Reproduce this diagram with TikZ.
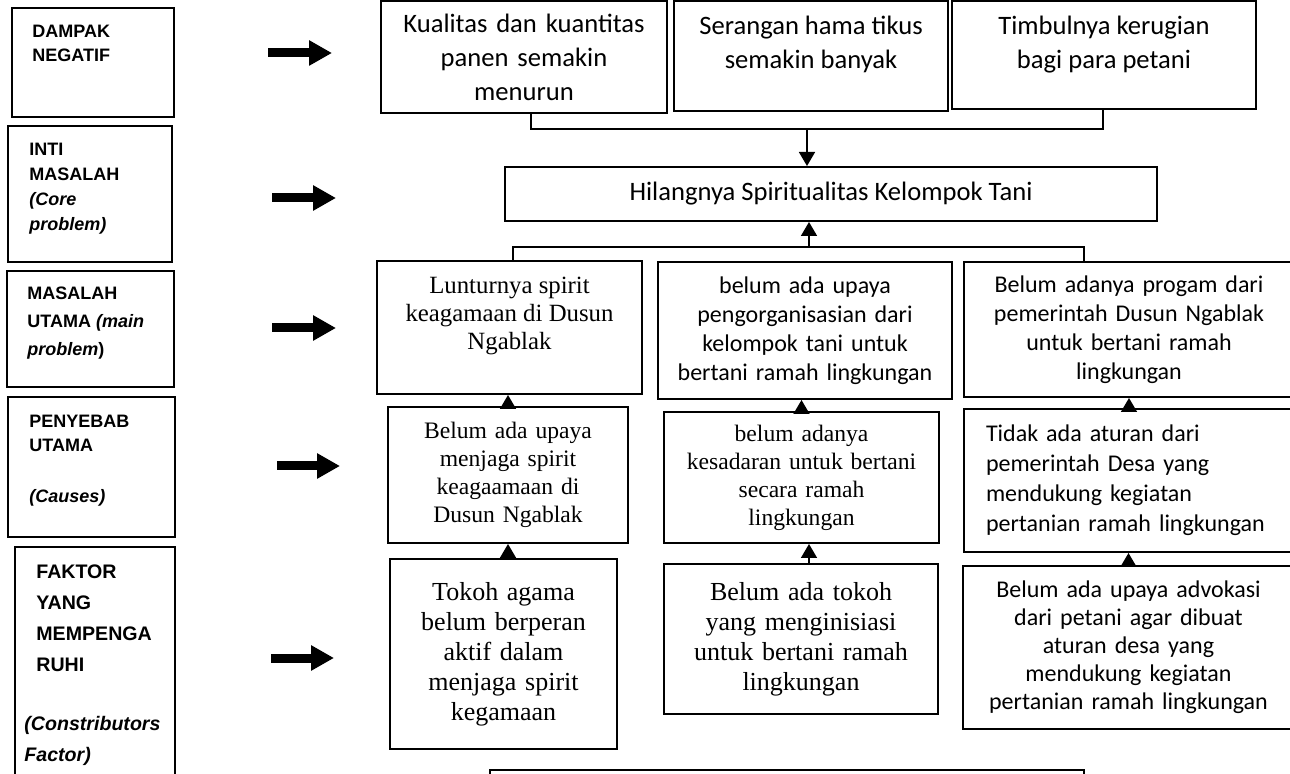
\documentclass[tikz,border=0pt]{standalone}
\usepackage{fontspec}
\setmainfont{Liberation Serif}
\newfontfamily\calibrifont{Carlito}
\newfontfamily\arialfont{Liberation Sans}
\usetikzlibrary{arrows.meta, positioning, fit}

\begin{document}
\begin{tikzpicture}[
    x=0.5pt, y=-0.5pt,
    cbox/.style={rectangle, draw, line width=1pt, inner sep=0pt, align=center},
    topfont/.style={font=\calibrifont\fontsize{13.3}{17}\selectfont},
    calfont/.style={font=\calibrifont\fontsize{12}{14.5}\selectfont},
    serfont/.style={font=\fontsize{11.8}{14}\selectfont},
    serbig/.style={font=\fontsize{13}{15}\selectfont},
    intext/.style={inner sep=0pt, align=center},
    lbltext/.style={font=\arialfont\bfseries\fontsize{9}{12}\selectfont,
                    align=left, inner sep=0pt},
    link/.style={line width=0.8pt},
    uparrow/.style={link, -{Triangle[length=7pt, width=8pt]}},
    bigarrow/.style={line width=4.5pt, -{Triangle[length=11.5pt, width=12pt]}}
]
    \useasboundingbox (0,0) rectangle (1290,774);
    \clip (0,0) rectangle (1290,774);

    % Left column labels
    \node[cbox, fit={(12,8) (174,117)}] (l1) {};
    \node[lbltext, anchor=north west] (l1t) at (32,25) {DAMPAK\\NEGATIF};
    \node[cbox, fit={(8,126) (172,262)}] (l2) {};
    \node[lbltext, font=\arialfont\bfseries\fontsize{9}{12.5}\selectfont,
          anchor=north west] (l2t) at (29,143)
          {INTI\\MASALAH\\\textit{(Core}\\\textit{problem)}};
    \node[cbox, fit={(7,271) (174,387)}] (l3) {};
    \node[lbltext, font=\arialfont\bfseries\fontsize{9}{14}\selectfont,
          anchor=north west] (l3t) at (27,287)
          {MASALAH\\UTAMA \textit{(main}\\\textit{problem})};
    \node[cbox, fit={(8,397) (175,537)}] (l4) {};
    \node[lbltext, anchor=north west] (l4t) at (29,415)
          {PENYEBAB\\UTAMA\\[13.5pt]\textit{(Causes)}};
    \node[cbox, fit={(15,547) (175,800)}] (l5) {};
    \node[lbltext, font=\arialfont\bfseries\fontsize{9.8}{15.5}\selectfont,
          anchor=north west] (l5t) at (36,564)
          {FAKTOR\\YANG\\MEMPENGA\\RUHI\\[14pt]
           \hspace*{-6pt}\textit{(Constributors}\\\hspace*{-6pt}\textit{Factor)}};

    % Level arrows
    \coordinate (as1) at (268,53);  \coordinate (ae1) at (332,53);
    \coordinate (as2) at (272,198); \coordinate (ae2) at (336,198);
    \coordinate (as3) at (272,328); \coordinate (ae3) at (336,328);
    \coordinate (as4) at (277,466); \coordinate (ae4) at (340,466);
    \coordinate (as5) at (271,658); \coordinate (ae5) at (334,658);
    \draw[bigarrow] (as1) -- (ae1);
    \draw[bigarrow] (as2) -- (ae2);
    \draw[bigarrow] (as3) -- (ae3);
    \draw[bigarrow] (as4) -- (ae4);
    \draw[bigarrow] (as5) -- (ae5);

    % Dampak negatif
    \node[cbox, topfont, text width=135pt, minimum width=143pt, minimum height=56pt]
          (k1) at (524,57) {Kualitas dan kuantitas\\panen semakin\\menurun};
    \node[cbox, fit={(674,1) (948,111)}] (k2) {};
    \node[intext, topfont, below=8pt of k2.north] (k2t)
          {Serangan hama tikus\\semakin banyak};
    \node[cbox, fit={(952,1) (1256,109)}] (k3) {};
    \node[intext, topfont, below=8pt of k3.north] (k3t)
          {Timbulnya kerugian\\bagi para petani};

    % Inti masalah
    \node[cbox, topfont, minimum width=326pt, minimum height=27pt]
          (hil) at (831,194) {Hilangnya Spiritualitas Kelompok Tani};

    % Masalah utama
    \node[cbox, fit={(377,261) (642,394)}] (mA) {};
    \node[intext, font=\fontsize{12.4}{14}\selectfont, below=8.5pt of mA.north] (mAt)
          {Lunturnya spirit\\keagamaan di Dusun\\Ngablak};
    \node[cbox, calfont, text width=140pt, minimum width=147pt, minimum height=68.5pt]
          (mB) at (805,330.5)
          {belum ada upaya\\pengorganisasian dari\\kelompok tani untuk\\bertani ramah lingkungan};
    \node[cbox, calfont, text width=150pt, minimum width=165pt, minimum height=67.5pt]
          (mC) at (1129,329.5)
          {Belum adanya progam dari\\pemerintah Dusun Ngablak\\untuk bertani ramah\\lingkungan};

    % Penyebab utama
    \node[cbox, serfont, text width=110pt, minimum width=120pt, minimum height=68pt]
          (pD) at (508,475)
          {Belum ada upaya\\menjaga spirit\\keagaamaan di\\Dusun Ngablak};
    \node[cbox, serfont, text width=130pt, minimum width=137.5pt, minimum height=65.5pt]
          (pE) at (801.5,477.5)
          {belum adanya\\kesadaran untuk bertani\\secara ramah\\lingkungan};
    \node[cbox, font=\calibrifont\fontsize{12}{15}\selectfont, align=left,
          text width=143pt, minimum width=165pt, minimum height=71.5pt]
          (pF) at (1129,480.5)
          {Tidak ada aturan dari\\pemerintah Desa yang\\mendukung kegiatan\\pertanian ramah lingkungan};

    % Faktor yang mempengaruhi
    \node[cbox, serbig, text width=105pt, minimum width=113.5pt, minimum height=95pt]
          (fG) at (503.5,654)
          {Tokoh agama\\belum berperan\\aktif dalam\\menjaga spirit\\kegamaan};
    \node[cbox, serbig, text width=125pt, minimum width=137pt, minimum height=75pt]
          (fH) at (801,639)
          {Belum ada tokoh\\yang menginisiasi\\untuk bertani ramah\\lingkungan};
    \node[cbox, font=\calibrifont\fontsize{12}{14}\selectfont, text width=150pt,
          minimum width=165.5pt, minimum height=81.5pt] (fI) at (1128.5,647.5)
          {Belum ada upaya advokasi\\dari petani agar dibuat\\aturan desa yang\\mendukung kegiatan\\pertanian ramah lingkungan};

    \node[cbox, fit={(490,770) (1084,800)}] (bottom) {};

    % Connectors
    \coordinate (j1) at (531,129);
    \coordinate (j3) at (1103,129);
    \coordinate (jt) at (807,129);
    \draw[link] (j1 |- k1.south) -- (j1) -- (j3) -- (j3 |- k3.south);
    \draw[uparrow] (jt) -- (jt |- hil.north);

    \coordinate (jl) at (513,247);
    \coordinate (jr) at (1084,247);
    \coordinate (jb) at (809,247);
    \draw[link] (jl |- mA.north) -- (jl) -- (jr) -- (jr |- mC.north);
    \draw[uparrow] (jb) -- (jb |- hil.south);

    \draw[uparrow] (pD.north) -- (pD.north |- mA.south);
    \draw[uparrow] (pE.north) -- (pE.north |- mB.south);
    \draw[uparrow] (pF.north) -- (pF.north |- mC.south);
    \draw[uparrow] (fG.north -| pD.south) -- (pD.south);
    \draw[uparrow] (fH.north -| jb) -- (pE.south -| jb);
    \draw[uparrow] (fI.north) -- (fI.north |- pF.south);
\end{tikzpicture}
\end{document}
